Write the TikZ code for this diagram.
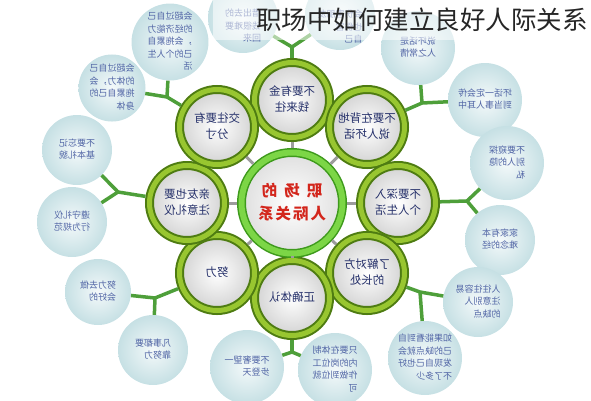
\documentclass[tikz,border=0pt]{standalone}
\usepackage{fontspec}
\usepackage{graphicx}
\newfontfamily\cjk{Noto Sans CJK SC}

\definecolor{ringdunkel}{HTML}{4E7C12}
\definecolor{ringhell}{HTML}{98C630}
\definecolor{mittedunkel}{HTML}{3E9A1C}
\definecolor{mittehell}{HTML}{7CD646}
\definecolor{aussenrand}{HTML}{C6E0E4}
\definecolor{aussenmitte}{HTML}{F4F9FA}
\definecolor{astgruen}{HTML}{4E9F3A}
\definecolor{schrift}{HTML}{25306A}
\definecolor{schriftblau}{HTML}{5266A6}
\definecolor{speiche}{HTML}{9C9C9C}
\definecolor{rot}{HTML}{D3261C}

% gespiegelter Text
\newcommand{\spiegel}[2][l]{\reflectbox{\begin{tabular}{@{}#1@{}}#2\end{tabular}}}

\tikzset{
  aussen/.style={circle, inner sep=0pt, minimum size=#1, inner color=aussenmitte,
    outer color=aussenrand, text=schriftblau, font=\cjk\fontsize{9}{12.5}\selectfont},
  innen/.style={circle, inner sep=0pt, minimum size=75pt, draw=ringdunkel, line width=2pt,
    double=ringhell, double distance=5pt, outer sep=4.5pt, inner color=white,
    outer color=gray!35, text=schrift, font=\cjk\fontsize{11.5}{16}\selectfont},
  mitte/.style={circle, inner sep=0pt, minimum size=101pt, draw=mittedunkel, line width=1.5pt,
    double=mittehell, double distance=6pt, outer sep=4.5pt, inner color=white,
    outer color=gray!25, text=rot, font=\cjk\bfseries\fontsize{15.5}{23}\selectfont},
  ast/.style={draw=astgruen, line width=3.5pt},
  speichen/.style={draw=speiche, line width=3pt},
  titel/.style={inner sep=0pt, text=black!85, font=\cjk\fontsize{25.5}{26}\selectfont}
}

\begin{document}
\begin{tikzpicture}[x=1pt, y=-1pt]
		\useasboundingbox (0,0) rectangle (591,400);
		
		% Kreise aussen
		\node[aussen=72pt] (a1) at (170,42) {\spiegel{会超过自己\\的经济能力\\，会拖累自\\己的个人生\\活}};
		\node[aussen=66pt] (a2) at (112,88) {\spiegel{会超过自己\\的体力，会\\拖累自己的\\身体}};
		\node[aussen=70pt] (a3) at (243,18) {\raisebox{-11pt}[0pt][0pt]{\spiegel{借出去的\\钱很难要\\回来}}};
		\node[aussen=70pt] (a4) at (340,15) {\raisebox{-15pt}[0pt][0pt]{\spiegel{会伤害朋友\\也伤害\\自己}}};
		\node[aussen=74pt] (a5) at (418,48) {\spiegel{说坏话是\\人之常情}};
		\node[aussen=74pt] (a6) at (485,100) {\spiegel{坏话一定会传\\到当事人耳中}};
		\node[aussen=74pt] (a7) at (507,163) {\spiegel{不要窥探\\别人的隐\\私}};
		\node[aussen=70pt] (a8) at (500,240) {\spiegel{家家有本\\难念的经}};
		\node[aussen=70pt] (a9) at (478,302) {\spiegel{人往往容易\\注意别人\\的缺点}};
		\node[aussen=74pt] (a10) at (425,358) {\spiegel{如果能看到自\\己的缺点就会\\发现自己也好\\不了多少}};
		\node[aussen=74pt] (a11) at (335,370) {\spiegel{只要在体制\\内的岗位工\\作做到位就\\可}};
		\node[aussen=74pt] (a12) at (247,367) {\spiegel{不要奢望一\\步登天}};
		\node[aussen=66pt] (a13) at (98,292) {\spiegel{努力去做\\会好的}};
		\node[aussen=70pt] (a14) at (153,350) {\spiegel{凡事都要\\靠努力}};
		\node[aussen=70pt] (a15) at (77,150) {\spiegel{不要忘记\\基本礼貌}};
		\node[aussen=70pt] (a16) at (72,222) {\spiegel{遵守礼仪\\行为规范}};
		
		% Kreise innen
		\node[innen] (k1) at (292,100) {\spiegel[c]{不要有金\\钱来往}};
		\node[innen] (k2) at (367,127) {\spiegel[c]{不要在背地\\说人坏话}};
		\node[innen] (k3) at (398,203) {\spiegel[c]{不要深入\\个人生活}};
		\node[innen] (k4) at (367,273) {\spiegel[c]{了解对方\\的长处}};
		\node[innen] (k5) at (292,298) {\spiegel[c]{正确体认}};
		\node[innen] (k6) at (217,273) {\spiegel[c]{努力}};
		\node[innen] (k7) at (187,203) {\spiegel[c]{亲友也要\\注意礼仪}};
		\node[innen] (k8) at (217,127) {\spiegel[c]{交往要有\\分寸}};
		
		% Mitte
		\node[mitte] (ctr) at (292,203) {\spiegel[c]{职\hspace{7pt}场\hspace{7pt}的\\人\hspace{2pt}际\hspace{2pt}关\hspace{2pt}系}};
		\foreach \k in {k1,k2,k3,k4,k5,k6,k7,k8}
			\draw[speichen] (ctr) -- (\k);
		
		% Verzweigungen
		\coordinate (J1) at (292,47);
		\coordinate (J2) at (167,97);
		\coordinate (J3) at (422,103);
		\coordinate (J4) at (467,201);
		\coordinate (J5) at (420,292);
		\coordinate (J6) at (292,352);
		\coordinate (J7) at (155,298);
		\coordinate (J8) at (118,192);
		\draw[ast] (J1) -- (k1); \draw[ast] (J1) -- (a3); \draw[ast] (J1) -- (a4);
		\draw[ast] (J2) -- (k8); \draw[ast] (J2) -- (a1); \draw[ast] (J2) -- (a2);
		\draw[ast] (J3) -- (k2); \draw[ast] (J3) -- (a5); \draw[ast] (J3) -- (a6);
		\draw[ast] (J4) -- (k3); \draw[ast] (J4) -- (a7); \draw[ast] (J4) -- (a8);
		\draw[ast] (J5) -- (k4); \draw[ast] (J5) -- (a9); \draw[ast] (J5) -- (a10);
		\draw[ast] (J6) -- (k5); \draw[ast] (J6) -- (a11); \draw[ast] (J6) -- (a12);
		\draw[ast] (J7) -- (k6); \draw[ast] (J7) -- (a13); \draw[ast] (J7) -- (a14);
		\draw[ast] (J8) -- (k7); \draw[ast] (J8) -- (a15); \draw[ast] (J8) -- (a16);
		
		% Titel
		\fill[white, opacity=0.55] (213,0) rectangle (591,40);
		\node[titel] (titel) at (422,20) {职场中如何建立良好人际关系};
	\end{tikzpicture}
\end{document}
